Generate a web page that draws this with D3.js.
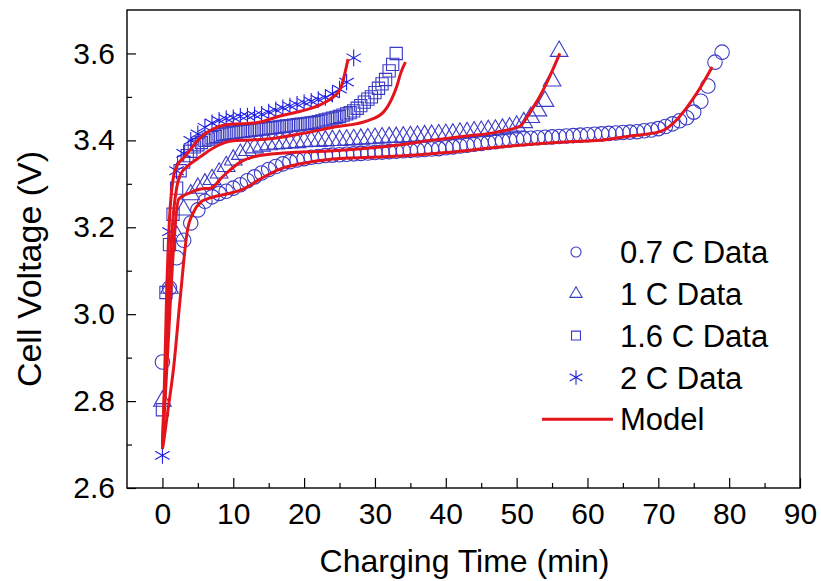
<!DOCTYPE html>
<html>
<head>
<meta charset="utf-8">
<script src="https://cdn.jsdelivr.net/npm/d3@7"></script>
<style>
  body { margin: 0; background: #fff; }
  text { font-family: "Liberation Sans", Arial, sans-serif; fill: #000; }
  .axis path { display: none; }
  .axis line { stroke: #000; stroke-width: 1.2; }
</style>
</head>
<body>
<div id="chart"></div>
<script>
// measured data (time in min, cell voltage in V)
const data07 = [[0,2.89],[1,3.06],[2,3.13],[3,3.17],[4,3.21],[5,3.24],[6,3.26],[7,3.27],[8,3.278],[9,3.283],
  [10,3.29],[11,3.298],[12,3.307],[13,3.316],[14,3.325],[15,3.333],[16,3.34],[17,3.346],[18,3.351],[19,3.355],
  [20,3.358],[21,3.361],[22,3.363],[23,3.365],[24,3.366],[25,3.367],[26,3.368],[27,3.369],[28,3.37],[29,3.371],
  [30,3.372],[31,3.373],[32,3.374],[33,3.375],[34,3.376],[35,3.377],[36,3.378],[37,3.379],[38,3.38],[39,3.381],
  [40,3.383],[41,3.385],[42,3.387],[43,3.389],[44,3.391],[45,3.393],[46,3.395],[47,3.397],[48,3.399],[49,3.401],
  [50,3.403],[51,3.404],[52,3.405],[53,3.406],[54,3.407],[55,3.408],[56,3.409],[57,3.41],[58,3.411],[59,3.412],
  [60,3.413],[61,3.414],[62,3.415],[63,3.416],[64,3.417],[65,3.418],[66,3.419],[67,3.42],[68,3.422],[69,3.424],
  [70,3.427],[71,3.432],[72,3.438],[73,3.445],[74,3.452],[75,3.465],[76,3.49],[77,3.525],[78,3.58],[79,3.603]];

const data1 = [[0,2.80],[1,3.06],[2,3.18],[3,3.24],[4,3.275],[5,3.29],[6,3.30],[7,3.31],[8,3.325],[9,3.34],
  [10,3.355],[11,3.368],[12,3.377],[13,3.383],[14,3.387],[15,3.39],[16,3.392],[17,3.393],[18,3.394],[19,3.395],
  [20,3.397],[21,3.398],[22,3.398],[23,3.399],[24,3.40],[25,3.40],[26,3.401],[27,3.402],[28,3.403],[29,3.404],
  [30,3.405],[31,3.406],[32,3.407],[33,3.407],[34,3.408],[35,3.409],[36,3.41],[37,3.411],[38,3.412],[39,3.413],
  [40,3.414],[41,3.415],[42,3.417],[43,3.418],[44,3.42],[45,3.421],[46,3.423],[47,3.424],[48,3.426],[49,3.429],
  [50,3.433],[51,3.441],[52,3.453],[53,3.468],[54,3.49],[55,3.537],[56,3.605]];

const data16 = [[0,2.78],[0.5,3.05],[1,3.16],[1.5,3.23],[2,3.29],[2.5,3.33],[3,3.35],[3.5,3.365],[4,3.375],[4.5,3.385],
  [5,3.39],[5.5,3.395],[6,3.40],[6.5,3.403],[7,3.406],[7.5,3.409],[8,3.412],[8.5,3.414],[9,3.416],[9.5,3.417],
  [10,3.418],[10.5,3.419],[11,3.42],[11.5,3.421],[12,3.422],[12.5,3.423],[13,3.424],[13.5,3.425],[14,3.426],[14.5,3.427],
  [15,3.428],[15.5,3.429],[16,3.43],[16.5,3.431],[17,3.432],[17.5,3.433],[18,3.434],[18.5,3.435],[19,3.436],[19.5,3.437],
  [20,3.438],[20.5,3.439],[21,3.44],[21.5,3.441],[22,3.443],[22.5,3.445],[23,3.447],[23.5,3.449],[24,3.451],[24.5,3.453],
  [25,3.455],[25.5,3.458],[26,3.461],[26.5,3.464],[27,3.468],[27.5,3.474],[28,3.48],[28.5,3.488],[29,3.495],[29.5,3.50],
  [30,3.51],[30.5,3.52],[31,3.53],[31.5,3.54],[32,3.56],[32.5,3.575],[33,3.60]];

const data2 = [[0,2.675],[1,3.19],[2,3.33],[3,3.37],[4,3.40],[5,3.415],[6,3.43],[7,3.44],[8,3.446],[9,3.45],
  [10,3.452],[11,3.455],[12,3.456],[13,3.458],[14,3.46],[15,3.465],[16,3.47],[17,3.475],[18,3.479],[19,3.483],
  [20,3.487],[21,3.49],[22,3.494],[23,3.499],[24,3.507],[25,3.518],[26,3.534],[27,3.59]];

// model curves
const model07 = [[0,2.69],[0.2,2.71],[0.7,2.77],[1.6,2.88],[2.5,3.035],[3.5,3.19],[4.4,3.235],[5.4,3.258],[6.3,3.265],
  [9.2,3.277],[11.4,3.288],[13.8,3.311],[16.6,3.334],[19.5,3.346],[24.1,3.357],[33.6,3.364],[40,3.372],[47.7,3.385],
  [57.5,3.397],[61.8,3.40],[66,3.41],[70.2,3.42],[75.6,3.513],[77.6,3.569]];
const model1 = [[0,2.69],[0.4,2.81],[0.9,2.96],[1.4,3.11],[2.3,3.265],[4,3.28],[5.4,3.288],[6.8,3.29],[8.6,3.318],
  [11,3.35],[13.4,3.364],[17.1,3.371],[24.1,3.376],[33.6,3.39],[37.8,3.40],[43,3.41],[47.2,3.419],[50.5,3.433],
  [51.9,3.465],[53.3,3.502],[54.3,3.534],[56.1,3.60]];
const model16 = [[0,2.70],[0.4,2.85],[0.8,3.02],[1.2,3.15],[1.6,3.24],[2,3.29],[2.5,3.32],[3.5,3.34],[4.9,3.357],
  [6,3.37],[7.7,3.387],[10,3.399],[14.8,3.403],[19.5,3.415],[24.1,3.43],[28.9,3.445],[31.2,3.465],[32.5,3.50],
  [33.1,3.525],[33.6,3.553],[34.3,3.58]];
const model2 = [[0,2.69],[0.3,2.85],[0.6,3.05],[1,3.22],[1.5,3.31],[2,3.34],[3,3.36],[4,3.38],[5,3.40],[6,3.415],
  [7,3.425],[8,3.432],[9,3.436],[11,3.438],[13,3.44],[14,3.443],[16.6,3.456],[19.5,3.467],[22,3.48],[23.7,3.495],
  [25.1,3.518],[26.2,3.587]];

const xTicks = [0,10,20,30,40,50,60,70,80,90];
const xMinor = [5,15,25,35,45,55,65,75,85];
const yTicks = [2.6,2.8,3.0,3.2,3.4,3.6];
const yMinor = [2.7,2.9,3.1,3.3,3.5];
const legendLabels = ['0.7 C Data','1 C Data','1.6 C Data','2 C Data','Model'];

const blue = '#3a3ac6';
const red = '#e3141b';

const margin = {top: 10, right: 21, bottom: 93, left: 127};
const width = 821 - margin.left - margin.right,
  height = 581 - margin.top - margin.bottom;

const svg = d3.select('#chart').append('svg')
  .attr('width', 821)
  .attr('height', 581)
  .append('g')
  .attr('transform', `translate(${margin.left}, ${margin.top})`);

const xScale = d3.scaleLinear().domain([-5, 90]).range([0, width]);
const yScale = d3.scaleLinear().domain([2.6, 3.7]).range([height, 0]);

// asterisk symbol: three crossing strokes
const asterisk = {
  draw(ctx, size) {
    const r = Math.sqrt(size) / 2;
    for (let k = 0; k < 3; k++) {
      const a = Math.PI / 2 + k * Math.PI / 3;
      ctx.moveTo(r * Math.cos(a), r * Math.sin(a));
      ctx.lineTo(-r * Math.cos(a), -r * Math.sin(a));
    }
  }
};

// axes (ticks point inward)
svg.append('g')
  .attr('class', 'axis x-axis')
  .attr('transform', `translate(0, ${height})`)
  .call(d3.axisBottom(xScale).tickValues(xTicks).tickSize(-10).tickPadding(15).tickFormat(d3.format('d')))
  .call(g => g.selectAll('text').attr('font-size', 30));
svg.append('g')
  .attr('class', 'axis')
  .attr('transform', `translate(0, ${height})`)
  .call(d3.axisBottom(xScale).tickValues(xMinor).tickSize(-5).tickFormat(''));

svg.append('g')
  .attr('class', 'axis y-axis')
  .call(d3.axisLeft(yScale).tickValues(yTicks).tickSize(-9).tickPadding(12).tickFormat(d3.format('.1f')))
  .call(g => g.selectAll('text').attr('font-size', 30));
svg.append('g')
  .attr('class', 'axis')
  .call(d3.axisLeft(yScale).tickValues(yMinor).tickSize(-5).tickFormat(''));

svg.append('rect')
  .attr('width', width)
  .attr('height', height)
  .attr('fill', 'none')
  .attr('stroke', '#000')
  .attr('stroke-width', 1.4);

const plot = svg.append('g');

const series = [
  {data: data07, type: d3.symbolCircle, size: 165},
  {data: data1, type: d3.symbolTriangle, size: 135},
  {data: data16, type: d3.symbolSquare, size: 150},
  {data: data2, type: asterisk, size: 280}
];

series.forEach(s => {
  plot.selectAll(null)
    .data(s.data)
    .enter()
    .append('path')
    .attr('d', d3.symbol(s.type, s.size))
    .attr('transform', d => `translate(${xScale(d[0])}, ${yScale(d[1])})`)
    .attr('fill', 'none')
    .attr('stroke', s.type === asterisk ? '#1f1fe6' : blue)
    .attr('stroke-width', 1.1);
});

const line = d3.line()
  .x(d => xScale(d[0]))
  .y(d => yScale(d[1]))
  .curve(d3.curveMonotoneX);

[model07, model1, model16, model2].forEach(m => {
  plot.append('path')
    .datum(m)
    .attr('d', line)
    .attr('fill', 'none')
    .attr('stroke', red)
    .attr('stroke-width', 3)
    .attr('stroke-linejoin', 'round');
});

// legend
const legend = svg.append('g').attr('transform', `translate(${576 - margin.left}, ${252 - margin.top})`);
const legendSymbols = [
  {type: d3.symbolCircle, size: 80},
  {type: d3.symbolTriangle, size: 65},
  {type: d3.symbolSquare, size: 80},
  {type: asterisk, size: 210}
];
legendLabels.forEach((label, i) => {
  const row = legend.append('g').attr('transform', `translate(0, ${i * 41.8})`);
  if (i < 4) {
    row.append('path')
      .attr('d', d3.symbol(legendSymbols[i].type, legendSymbols[i].size))
      .attr('fill', 'none')
      .attr('stroke', i === 3 ? '#1f1fe6' : blue)
      .attr('stroke-width', 1.1);
  } else {
    row.append('line')
      .attr('x1', -34).attr('x2', 37)
      .attr('stroke', red)
      .attr('stroke-width', 3);
  }
  row.append('text')
    .attr('x', 44)
    .attr('dy', '0.36em')
    .attr('font-size', 31)
    .text(label);
});

// axis titles
svg.append('text')
  .attr('x', width / 2 + 1)
  .attr('y', height + 84)
  .attr('text-anchor', 'middle')
  .attr('font-size', 32)
  .text('Charging Time (min)');

svg.append('text')
  .attr('transform', `translate(${41 - margin.left}, ${height / 2 + 20}) rotate(-90)`)
  .attr('text-anchor', 'middle')
  .attr('font-size', 34)
  .text('Cell Voltage (V)');
</script>
</body>
</html>
